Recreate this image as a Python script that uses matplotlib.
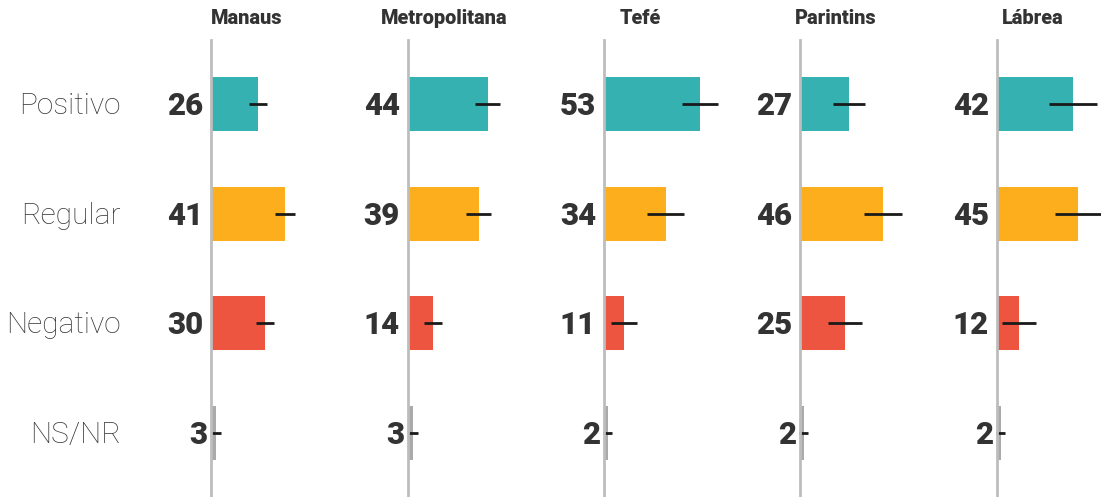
import matplotlib.pyplot as plt

plt.rcParams['font.family'] = ['Roboto', 'DejaVu Sans']

regions = ['Manaus', 'Metropolitana', 'Tefé', 'Parintins', 'Lábrea']
categories = ['Positivo', 'Regular', 'Negativo', 'NS/NR']
values = {
    'Manaus':        [26, 41, 30, 3],
    'Metropolitana': [44, 39, 14, 3],
    'Tefé':          [53, 34, 11, 2],
    'Parintins':     [27, 46, 25, 2],
    'Lábrea':        [42, 45, 12, 2],
}
errors = {
    'Manaus':        [5, 5.5, 5, 2.8],
    'Metropolitana': [7, 7, 5, 2.8],
    'Tefé':          [10, 10, 7, 2.5],
    'Parintins':     [9, 10.5, 9.5, 2.5],
    'Lábrea':        [13.5, 13, 9.5, 2.5],
}
colors = ['#35b1b1', '#fdae1c', '#ed5541', '#aaaaaa']

W, H = 1101, 497
fig = plt.figure(figsize=(W / 100, H / 100), dpi=100)

axis_px = [211, 408, 604, 800, 997]
px_per_unit = 1.81
ax_w = 180
top_px = 40

for k, reg in enumerate(regions):
    x0 = axis_px[k]
    ax = fig.add_axes([x0 / W, 0, ax_w / W, (H - top_px) / H])
    ax.patch.set_alpha(0)
    ys = range(len(categories))
    ax.barh(ys, values[reg], height=0.49, color=colors, zorder=1)
    ax.errorbar(values[reg], ys, xerr=errors[reg], fmt='none', ecolor='#1a1a1a',
                elinewidth=2, capsize=0, zorder=2, clip_on=False)
    ax.set_xlim(0, ax_w / px_per_unit)
    ax.set_ylim(3.582, -0.582)
    for s in ['top', 'right', 'bottom']:
        ax.spines[s].set_visible(False)
    ax.spines['left'].set_color('#bdbdbd')
    ax.spines['left'].set_linewidth(2)
    ax.set_xticks([])
    ax.set_yticks([])
    for i, v in enumerate(values[reg]):
        dx = -4 if i == 3 else -8
        ax.annotate(str(v), xy=(0, i), xytext=(dx, -2), textcoords='offset pixels',
                    ha='right', va='center', fontsize=22.5, fontweight='black',
                    color='#333333', annotation_clip=False)
    if k == 0:
        for i, c in enumerate(categories):
            ax.annotate(c, xy=(0, i), xytext=(-90, -2), textcoords='offset pixels',
                        ha='right', va='center', fontsize=21.5, fontweight='light',
                        color='#3a3a3a', annotation_clip=False)
    fig.text((x0 + 36) / W, 1 - 19 / H, reg, ha='center', va='center',
             fontsize=14.3, fontweight='black', color='#333333')

fig.savefig('out.png', dpi=100)
